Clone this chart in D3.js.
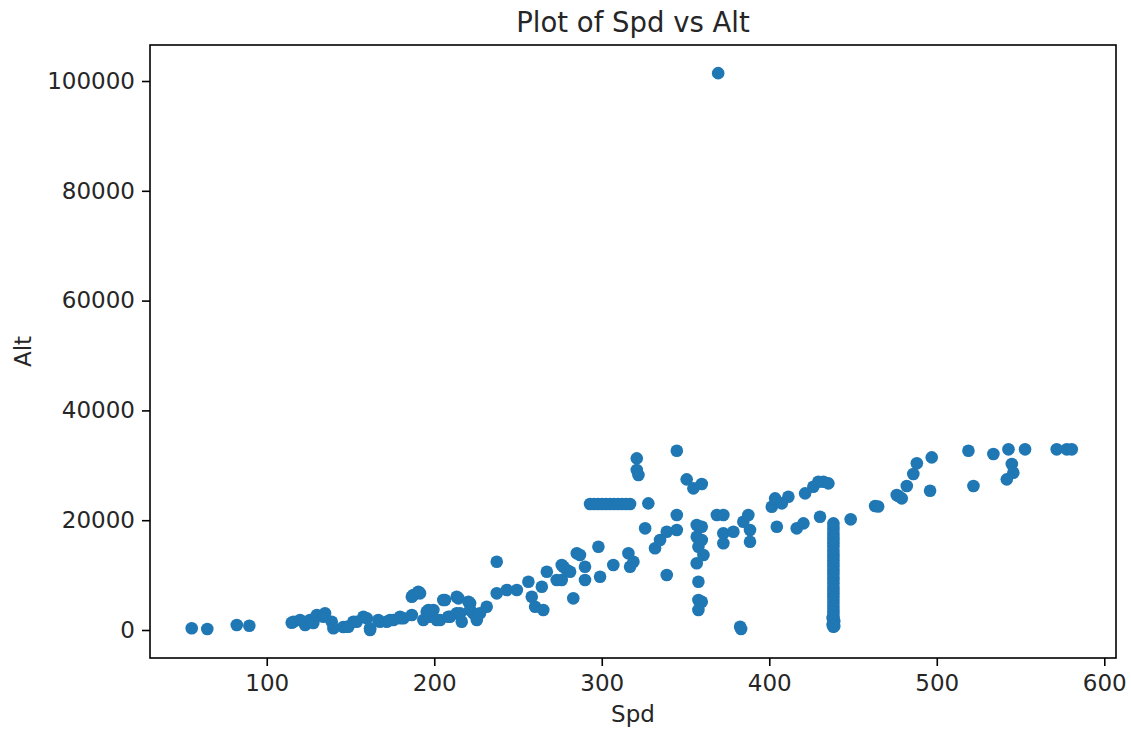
<!DOCTYPE html>
<html>
<head>
<meta charset="utf-8">
<script src="https://cdn.jsdelivr.net/npm/d3@7"></script>
<style>
  body { margin: 0; background: #fff; }
  svg { display: block; font-family: "DejaVu Sans", sans-serif; }
</style>
</head>
<body>
<svg id="chart" width="1131" height="732"></svg>
<script>
const title = "Plot of Spd vs Alt";
const xLabel = "Spd";
const yLabel = "Alt";
const xTicks = [100, 200, 300, 400, 500, 600];
const yTicks = [0, 20000, 40000, 60000, 80000, 100000];

const spd = [
  55.2, 64.5, 82.1, 89.6, 114.9, 115.9, 119.9, 122.9, 125.8, 127.8, 129.9, 133.8, 134.8, 138.8, 139.8,
  145.7, 147.8, 148.7, 151.7, 153.7, 157.7, 159.7, 161.7, 161.7, 166.6, 167.6, 171.6, 173.6, 175.6,
  179.6, 179.6, 181.6, 186.6, 186.6, 187.5, 190.5, 191.5, 193.5, 195.5, 196.5, 197.5, 199.5, 201.5,
  203.5, 205.4, 206.4, 208.4, 209.4, 213.4, 213.4, 214.4, 215.4, 216.4, 220.4, 221.4, 221.4, 223.3,
  225.4, 225.4, 227.3, 231.3, 237.3, 237.3, 243.3, 249.3, 256.2, 258.2, 260.2, 264.2, 265.1, 267.2,
  273.1, 276.1, 276.1, 277.1, 279.1, 281.1, 283.0, 285.1, 287.0, 290.0, 290.0,
  293.0, 295.4, 297.8, 300.2, 302.6, 305.0, 307.3, 309.7, 312.1, 314.5, 316.9,
  298.0, 299.0, 306.9, 315.9, 316.9, 318.9, 320.9, 320.9, 321.9, 325.9, 327.8, 331.8, 334.8, 338.8,
  338.8, 344.8, 344.8, 344.8, 350.7, 354.7, 359.7, 356.7, 356.7, 357.7, 360.7, 356.7, 357.7, 357.7,
  357.7, 359.7, 359.7, 359.7, 368.7, 372.6, 372.6, 372.6, 378.6, 382.6, 383.2, 384.5, 387.5, 388.5,
  388.5, 401.5, 403.5, 407.5, 411.4, 404.5, 416.4, 420.4, 421.4, 426.3, 429.3, 432.3, 435.3, 430.3,
  438.3, 438.3, 438.3, 438.3, 438.3, 438.3, 438.3, 438.3, 438.3, 438.3, 438.3, 438.3, 438.3, 438.3,
  438.3, 438.3, 438.3, 438.3, 438.3, 438.3, 438.3, 438.3, 438.3, 438.3, 438.3, 438.3, 438.3, 438.3,
  438.3, 438.3, 438.3, 438.3, 438.3, 437.8, 438.8, 437.8, 438.8,
  448.6, 463.2, 465.0, 476.1, 477.1, 479.1, 482.1, 486.0, 488.1, 496.0, 497.0, 518.9, 521.9, 533.8,
  542.8, 544.8, 545.7, 541.8, 552.7, 571.6, 577.6, 580.6, 369.5
];
const alt = [
  310, 180, 910, 780, 1330, 1510, 1820, 910, 1820, 1270, 2730, 2420, 3040, 1510, 310,
  550, 600, 600, 1510, 1510, 2420, 2130, 0, 310, 1820, 1510, 1510, 1820, 1820,
  2420, 2130, 2130, 2730, 6060, 6370, 6970, 6680, 1820, 3330, 3640, 2420, 3640, 1820,
  1820, 5460, 5460, 2420, 2420, 6060, 3040, 5770, 3040, 1510, 5150, 4860, 3640, 3040,
  1820, 2420, 3040, 4240, 12440, 6680, 7280, 7280, 8800, 6060, 4240, 7890, 3640, 10620,
  9100, 11840, 9100, 11530, 10930, 10620, 5770, 13970, 13660, 11530, 9100,
  22950, 22950, 22950, 22950, 22950, 22950, 22950, 22950, 22950, 22950, 22950,
  15170, 9710, 11840, 13970, 11530, 12440, 31270, 29140, 28230, 18520, 23070, 14880, 16390, 17900,
  10020, 32650, 20940, 18210, 27440, 25800, 26590, 19120, 16990, 15170, 13660, 12150, 8800, 5460,
  3640, 18810, 16390, 5150, 20940, 20940, 17610, 15790, 17900, 600, 180, 19720, 20940, 18210,
  16080, 22450, 23980, 23070, 24270, 18810, 18520, 19430, 24890, 26100, 27010, 27010, 26710, 20630,
  19430, 18800, 18200, 17500, 17000, 16400, 15800, 15200, 14500, 13900, 13300, 12700, 12100, 11500,
  10900, 10300, 9700, 9100, 8500, 7900, 7300, 6700, 6100, 5500, 4900, 4300, 3700, 3100,
  2500, 2000, 1500, 1000, 600, 2200, 1600, 900, 700,
  20160, 22580, 22500, 24580, 24400, 23980, 26220, 28410, 30360, 25370, 31450, 32650, 26220, 32050,
  32910, 30230, 28640, 27440, 32910, 32910, 32910, 32910, 101430
];

const points = spd.map((s, i) => ({ spd: s, alt: alt[i] }));

const svg = d3.select("#chart");
const mLeft = 150, mRight = 1116, mTop = 45, mBottom = 658;
const tickFont = 23;
const textColor = "#262626";

const x = d3.scaleLinear().domain([30.3, 607]).range([mLeft, mRight]);
const y = d3.scaleLinear().domain([-5100, 106560]).range([mBottom, mTop]);

// points
svg.append("g")
  .selectAll("circle")
  .data(points)
  .join("circle")
  .attr("cx", d => x(d.spd))
  .attr("cy", d => y(d.alt))
  .attr("r", 6.3)
  .attr("fill", "#1f77b4");

// frame
svg.append("rect")
  .attr("x", mLeft).attr("y", mTop)
  .attr("width", mRight - mLeft).attr("height", mBottom - mTop)
  .attr("fill", "none").attr("stroke", "#000").attr("stroke-width", 1.6);

// axes
const xAxis = d3.axisBottom(x).tickValues(xTicks).tickSize(8).tickPadding(9).tickFormat(d3.format("d"));
const gx = svg.append("g").attr("transform", `translate(0,${mBottom})`).call(xAxis);
gx.select(".domain").remove();
gx.selectAll("line").attr("stroke", "#000").attr("stroke-width", 1.6);
gx.selectAll("text").attr("font-size", tickFont).attr("fill", textColor).attr("font-family", "DejaVu Sans, sans-serif");

const yAxis = d3.axisLeft(y).tickValues(yTicks).tickSize(8).tickPadding(7).tickFormat(d3.format("d"));
const gy = svg.append("g").attr("transform", `translate(${mLeft},0)`).call(yAxis);
gy.select(".domain").remove();
gy.selectAll("line").attr("stroke", "#000").attr("stroke-width", 1.6);
gy.selectAll("text").attr("font-size", tickFont).attr("fill", textColor).attr("font-family", "DejaVu Sans, sans-serif");

// title & labels
svg.append("text")
  .attr("x", (mLeft + mRight) / 2).attr("y", 32)
  .attr("text-anchor", "middle")
  .attr("font-size", 27.5).attr("fill", textColor)
  .text(title);

svg.append("text")
  .attr("x", (mLeft + mRight) / 2).attr("y", 722)
  .attr("text-anchor", "middle")
  .attr("font-size", tickFont).attr("fill", textColor)
  .text(xLabel);

svg.append("text")
  .attr("transform", `translate(31,${(mTop + mBottom) / 2}) rotate(-90)`)
  .attr("text-anchor", "middle")
  .attr("font-size", tickFont).attr("fill", textColor)
  .text(yLabel);
</script>
</body>
</html>
